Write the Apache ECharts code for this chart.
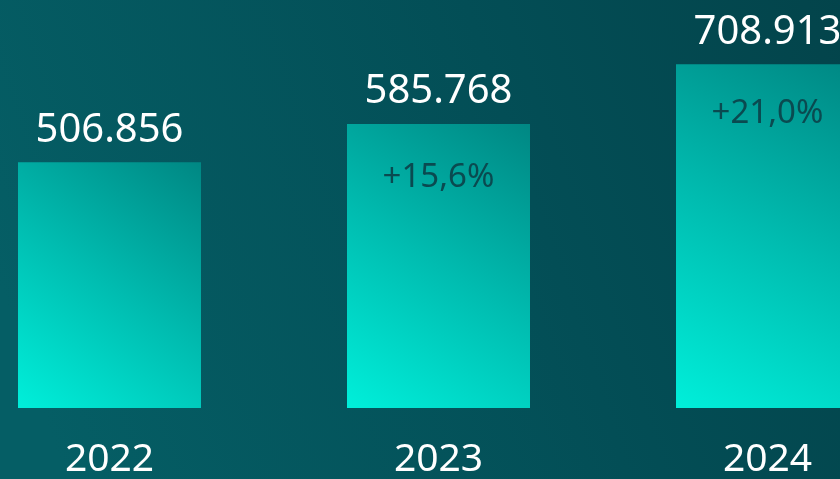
<!DOCTYPE html>
<html>
<head>
<meta charset="utf-8">
<script src="https://cdn.jsdelivr.net/npm/echarts@6/dist/echarts.min.js"></script>
<style>
  html, body { margin: 0; padding: 0; }
  #chart { width: 840px; height: 479px; }
</style>
</head>
<body>
<div id="chart"></div>
<script>
var years = ['2022', '2023', '2024'];
var totals = [506856, 585768, 708913];
var growth = ['', '+15,6%', '+21,0%'];

// gap between bar top and the growth label, per bar
var growthGap = [0, 37, 33];

function fmtThousands(v) {
    return String(v).replace(/\B(?=(\d{3})+(?!\d))/g, '.');
}

var barColor = new echarts.graphic.LinearGradient(0, 1, 1, 0, [
    { offset: 0, color: '#00efda' },
    { offset: 0.5, color: '#00bcb0' },
    { offset: 1, color: '#008783' }
]);

var option = {
    backgroundColor: new echarts.graphic.LinearGradient(0, 0.6, 1, 0, [
        { offset: 0, color: '#055e65' },
        { offset: 0.6, color: '#034e56' },
        { offset: 1, color: '#03444b' }
    ]),
    textStyle: { fontFamily: 'Noto Sans' },
    animation: false,
    // ticks sit on the bar centres (boundaryGap false), bars overflow the grid
    grid: { left: 109.5, right: 72.5, top: 0, bottom: 65 },
    xAxis: {
        type: 'category',
        data: years,
        boundaryGap: false,
        axisLine: { show: false },
        axisTick: { show: false },
        axisLabel: { color: '#ffffff', fontSize: 39, margin: 32 }
    },
    yAxis: {
        type: 'value',
        min: 0,
        max: 841.5,
        show: false,
        splitLine: { show: false }
    },
    series: [
        {
            type: 'bar',
            barWidth: 183,
            clip: false,
            data: totals.map(function (v) { return v / 1000; }),
            itemStyle: { color: barColor },
            label: {
                show: true,
                position: 'top',
                distance: 12,
                color: '#ffffff',
                fontSize: 40,
                formatter: function (p) { return fmtThousands(totals[p.dataIndex]); }
            }
        },
        {
            type: 'bar',
            barWidth: 183,
            barGap: '-100%',
            clip: false,
            silent: true,
            itemStyle: { color: 'rgba(0,0,0,0)' },
            data: totals.map(function (v, i) {
                return {
                    value: v / 1000,
                    label: { distance: growthGap[i] }
                };
            }),
            label: {
                show: true,
                position: 'insideTop',
                color: '#0a4a50',
                fontSize: 33,
                formatter: function (p) { return growth[p.dataIndex]; }
            }
        }
    ]
};

echarts.init(document.getElementById('chart')).setOption(option);
</script>
</body>
</html>
